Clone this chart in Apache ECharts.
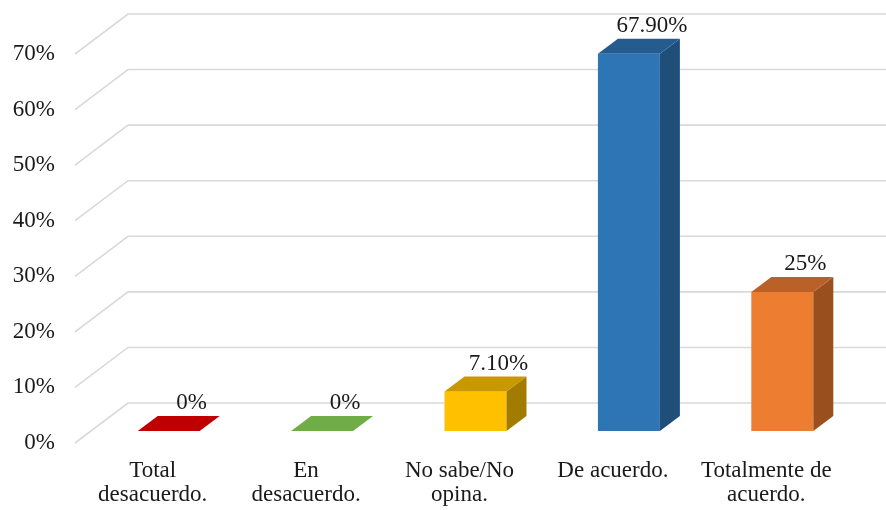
<!DOCTYPE html>
<html>
<head>
<meta charset="utf-8">
<script src="https://cdn.jsdelivr.net/npm/echarts@6/dist/echarts.min.js"></script>
<style>
  html, body { margin: 0; padding: 0; background: #fff; }
  #chart { width: 886px; height: 510px; }
</style>
</head>
<body>
<div id="chart"></div>
<script>
// Survey answers and their shares (percent)
const categories = ['Total\ndesacuerdo.', 'En\ndesacuerdo.', 'No sabe/No\nopina.', 'De acuerdo.', 'Totalmente de\nacuerdo.'];
const values = [0, 0, 7.1, 67.9, 25];
const valueLabels = ['0%', '0%', '7.10%', '67.90%', '25%'];
const yTicks = [0, 10, 20, 30, 40, 50, 60, 70];

const faceColors = ['#c00000', '#70ad47', '#ffc000', '#2e75b6', '#ed7d31'];
const topColors  = ['#a30000', '#5f933c', '#c99700', '#245c90', '#ba6127'];
const sideColors = ['#8f0000', '#4f7b32', '#a27c00', '#1f4e79', '#9a4f1e'];

const FONT = '"Liberation Serif", "Times New Roman", serif';
// perspective of the floor/back wall, and of each box
const WALL_DX = 53, WALL_DY = -40;
const BAR_SHIFT_X = 16, BAR_SHIFT_Y = -12;
const DEPTH_DX = 20, DEPTH_DY = -15;

const chart = echarts.init(document.getElementById('chart'), null, { renderer: 'canvas' });

function gridRender(params, api) {
  const v = api.value(0);
  const y = api.coord([0, v])[1];
  const x0 = params.coordSys.x - 1;
  return {
    type: 'polyline',
    shape: { points: [[x0, y], [x0 + WALL_DX, y + WALL_DY], [900, y + WALL_DY]] },
    style: { stroke: '#d9d9d9', lineWidth: 1.6, fill: null },
    silent: true
  };
}

function barRender(params, api) {
  const i = api.value(0);
  const v = api.value(1);
  const base = api.coord([i, 0]);
  const top = api.coord([i, v]);
  const w = api.size([1, 0])[0] * 0.404;
  const cx = base[0] + BAR_SHIFT_X;
  const x1 = cx - w / 2, x2 = cx + w / 2;
  const yb = base[1] + BAR_SHIFT_Y;
  const yt = top[1] + BAR_SHIFT_Y;
  const children = [];
  if (yb - yt > 0.5) {
    children.push({
      type: 'rect',
      shape: { x: x1, y: yt, width: w, height: yb - yt },
      style: { fill: faceColors[i] }
    });
    children.push({
      type: 'polygon',
      shape: { points: [[x2, yt], [x2 + DEPTH_DX, yt + DEPTH_DY], [x2 + DEPTH_DX, yb + DEPTH_DY], [x2, yb]] },
      style: { fill: sideColors[i] }
    });
  }
  children.push({
    type: 'polygon',
    shape: { points: [[x1, yt], [x2, yt], [x2 + DEPTH_DX, yt + DEPTH_DY], [x1 + DEPTH_DX, yt + DEPTH_DY]] },
    style: { fill: yb - yt > 0.5 ? topColors[i] : faceColors[i] }
  });
  children.push({
    type: 'text',
    style: {
      text: valueLabels[i],
      x: cx + 23, y: yt - 28,
      align: 'center', verticalAlign: 'middle',
      font: '23px ' + FONT, fill: '#1a1a1a'
    }
  });
  return { type: 'group', children };
}

chart.setOption({
  animation: false,
  backgroundColor: '#ffffff',
  grid: { left: 76, right: 43, top: 54, bottom: 67 },
  xAxis: {
    type: 'category',
    data: categories,
    axisLine: { show: false },
    axisTick: { show: false },
    axisLabel: {
      interval: 0,
      margin: 16,
      fontFamily: FONT, fontSize: 23, lineHeight: 24,
      color: '#1a1a1a', verticalAlign: 'top'
    }
  },
  yAxis: {
    type: 'value',
    min: 0, max: 70, interval: 10,
    axisLine: { show: false },
    axisTick: { show: false },
    splitLine: { show: false },
    axisLabel: {
      margin: 21,
      padding: [6, 0, 0, 0],
      formatter: '{value}%',
      fontFamily: FONT, fontSize: 23,
      color: '#1a1a1a'
    }
  },
  series: [
    {
      type: 'custom',
      renderItem: gridRender,
      data: yTicks.map(t => [t]),
      encode: { y: 0 },
      z: 1,
      silent: true
    },
    {
      type: 'custom',
      renderItem: barRender,
      data: values.map((v, i) => [i, v]),
      encode: { x: 0, y: 1 },
      z: 2
    }
  ]
});
</script>
</body>
</html>
